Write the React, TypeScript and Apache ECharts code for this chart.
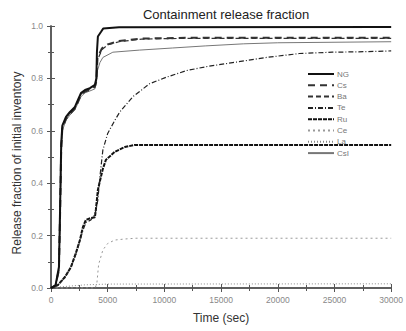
import React, { useEffect, useRef } from "react";
import * as echarts from "echarts";

const title = "Containment release fraction";
const xName = "Time (sec)";
const yName = "Release fraction of initial inventory";
const names = ["NG", "Cs", "Ba", "Te", "Ru", "Ce", "La", "CsI"];

const ng = [[0, 0], [400, 0.01], [700, 0.08], [800, 0.3], [900, 0.55], [1000, 0.62], [1320, 0.653], [1670, 0.672], [2110, 0.691], [2375, 0.718], [2640, 0.744], [3000, 0.756], [3430, 0.763], [3870, 0.775], [4000, 0.8], [4050, 0.9], [4135, 0.96], [4400, 0.977], [4600, 0.99], [6000, 0.995], [30000, 0.996]];
const cs = [[0, 0], [400, 0.01], [700, 0.07], [800, 0.28], [900, 0.53], [1000, 0.61], [1320, 0.645], [1670, 0.665], [2110, 0.685], [2375, 0.71], [2640, 0.737], [3000, 0.75], [3430, 0.757], [3870, 0.768], [4000, 0.79], [4100, 0.88], [4500, 0.915], [5000, 0.93], [6000, 0.943], [8000, 0.952], [12000, 0.955], [30000, 0.955]];
const ba = [[0, 0], [400, 0.01], [700, 0.07], [800, 0.29], [900, 0.54], [1000, 0.615], [1320, 0.648], [1670, 0.668], [2110, 0.688], [2375, 0.713], [2640, 0.74], [3000, 0.752], [3430, 0.76], [3870, 0.77], [4000, 0.79], [4100, 0.87], [4500, 0.91], [5000, 0.928], [6000, 0.94], [8000, 0.95], [12000, 0.953], [30000, 0.953]];
const te = [[0, 0], [600, 0.01], [1230, 0.04], [1760, 0.08], [2200, 0.13], [2550, 0.18], [2815, 0.22], [3080, 0.25], [3520, 0.26], [3870, 0.28], [4135, 0.336], [4311, 0.424], [4575, 0.527], [5000, 0.59], [5630, 0.64], [6070, 0.672], [7214, 0.73], [8710, 0.78], [10205, 0.805], [11965, 0.83], [13724, 0.845], [16012, 0.86], [19003, 0.88], [21906, 0.895], [24809, 0.9], [27800, 0.902], [30000, 0.905]];
const ru = [[0, 0], [600, 0.011], [1230, 0.042], [1760, 0.08], [2200, 0.134], [2550, 0.183], [2815, 0.233], [3080, 0.26], [3520, 0.267], [3870, 0.27], [3960, 0.3], [4135, 0.374], [4400, 0.424], [4575, 0.455], [4840, 0.489], [5630, 0.52], [6510, 0.538], [7390, 0.546], [30000, 0.546]];
const ce = [[0, 0], [3900, 0], [4050, 0.02], [4200, 0.09], [4575, 0.145], [5000, 0.17], [5630, 0.183], [6500, 0.187], [7500, 0.19], [30000, 0.19]];
const la = [[0, 0], [1000, 0.005], [3000, 0.012], [5000, 0.015], [30000, 0.016]];
const csi = [[0, 0], [400, 0.01], [700, 0.06], [800, 0.25], [900, 0.5], [1000, 0.6], [1320, 0.64], [1670, 0.66], [2110, 0.68], [2375, 0.705], [2640, 0.73], [3000, 0.745], [3430, 0.752], [3870, 0.76], [4000, 0.78], [4100, 0.83], [4311, 0.86], [4575, 0.88], [5455, 0.9], [7800, 0.908], [10700, 0.916], [13600, 0.924], [17000, 0.932], [20000, 0.936], [30000, 0.94]];

const seriesData = [ng, cs, ba, te, ru, ce, la, csi];
const styles = [
  { color: "#111", width: 2, type: "solid" },
  { color: "#333", width: 2, type: [7, 5] },
  { color: "#333", width: 1.2, type: [5, 3] },
  { color: "#222", width: 1.2, type: [5, 2, 1, 2] },
  { color: "#111", width: 2, type: [4, 1] },
  { color: "#999", width: 1, type: [2, 3] },
  { color: "#888", width: 1, type: [1, 2] },
  { color: "#777", width: 1, type: "solid" },
];

const FONT = "Liberation Sans, Arial, sans-serif";

export default function App() {
  const ref = useRef<HTMLDivElement>(null);
  useEffect(() => {
    const chart = echarts.init(ref.current!, null, { renderer: "svg" });
    const axisLine = { show: true, lineStyle: { color: "#555", width: 1.5 } };
    const tickStyle = { color: "#555", width: 1 };
    chart.setOption({
      animation: false,
      backgroundColor: "#fff",
      textStyle: { fontFamily: FONT },
      title: {
        text: title,
        left: 221,
        textAlign: "center",
        top: 3,
        textStyle: { fontSize: 13, fontWeight: "normal", color: "#222", fontFamily: FONT },
      },
      graphic: [
        {
          type: "text",
          x: 17,
          y: 163,
          rotation: Math.PI / 2,
          style: { text: yName, fontSize: 12, fill: "#333", align: "center", verticalAlign: "middle", fontFamily: FONT },
        },
      ],
      grid: { left: 51, right: 14, top: 26, bottom: 43 },
      legend: {
        orient: "vertical",
        left: 304,
        top: 68,
        itemWidth: 26,
        itemHeight: 8,
        itemGap: 3.3,
        padding: [2, 4, 2, 3],
        backgroundColor: "#fff",
        itemStyle: { opacity: 0 },
        textStyle: { fontSize: 8, color: "#777", padding: [0, 0, 0, -2] },
        data: names,
      },
      xAxis: [
        {
          type: "value", min: 0, max: 30000, interval: 5000,
          name: xName, nameLocation: "middle", nameGap: 24,
          nameTextStyle: { fontSize: 12, color: "#333" },
          axisLine, splitLine: { show: false },
          axisTick: { inside: true, length: 4, lineStyle: tickStyle },
          minorTick: { show: true, splitNumber: 2, length: 3, lineStyle: tickStyle },
          axisLabel: { fontSize: 8.5, color: "#888", margin: 7, formatter: (v: number) => String(v) },
        },
        {
          type: "value", min: 0, max: 30000, interval: 5000, position: "top",
          axisLine, splitLine: { show: false }, axisLabel: { show: false },
          axisTick: { inside: true, length: 4, lineStyle: tickStyle },
          minorTick: { show: true, splitNumber: 2, length: 3, lineStyle: tickStyle },
        },
      ],
      yAxis: [
        {
          type: "value", min: 0, max: 1, interval: 0.2,
          axisLine, splitLine: { show: false },
          axisTick: { inside: true, length: 4, lineStyle: tickStyle },
          minorTick: { show: true, splitNumber: 2, length: 3, lineStyle: tickStyle },
          axisLabel: { fontSize: 8.5, color: "#888", margin: 8, formatter: (v: number) => v.toFixed(1) },
        },
        {
          type: "value", min: 0, max: 1, interval: 0.2, position: "right",
          axisLine, splitLine: { show: false }, axisLabel: { show: false },
          axisTick: { inside: true, length: 4, lineStyle: tickStyle },
          minorTick: { show: true, splitNumber: 2, length: 3, lineStyle: tickStyle },
        },
      ],
      series: names.map((n, i) => ({
        name: n,
        type: "line",
        data: seriesData[i],
        showSymbol: false,
        symbol: "none",
        color: styles[i].color,
        lineStyle: { color: styles[i].color, width: styles[i].width, type: styles[i].type },
        z: 10 - i,
      })),
    });
    return () => chart.dispose();
  }, []);
  return <div ref={ref} style={{ position: "fixed", left: 0, top: 0, width: 406, height: 331 }} />;
}
